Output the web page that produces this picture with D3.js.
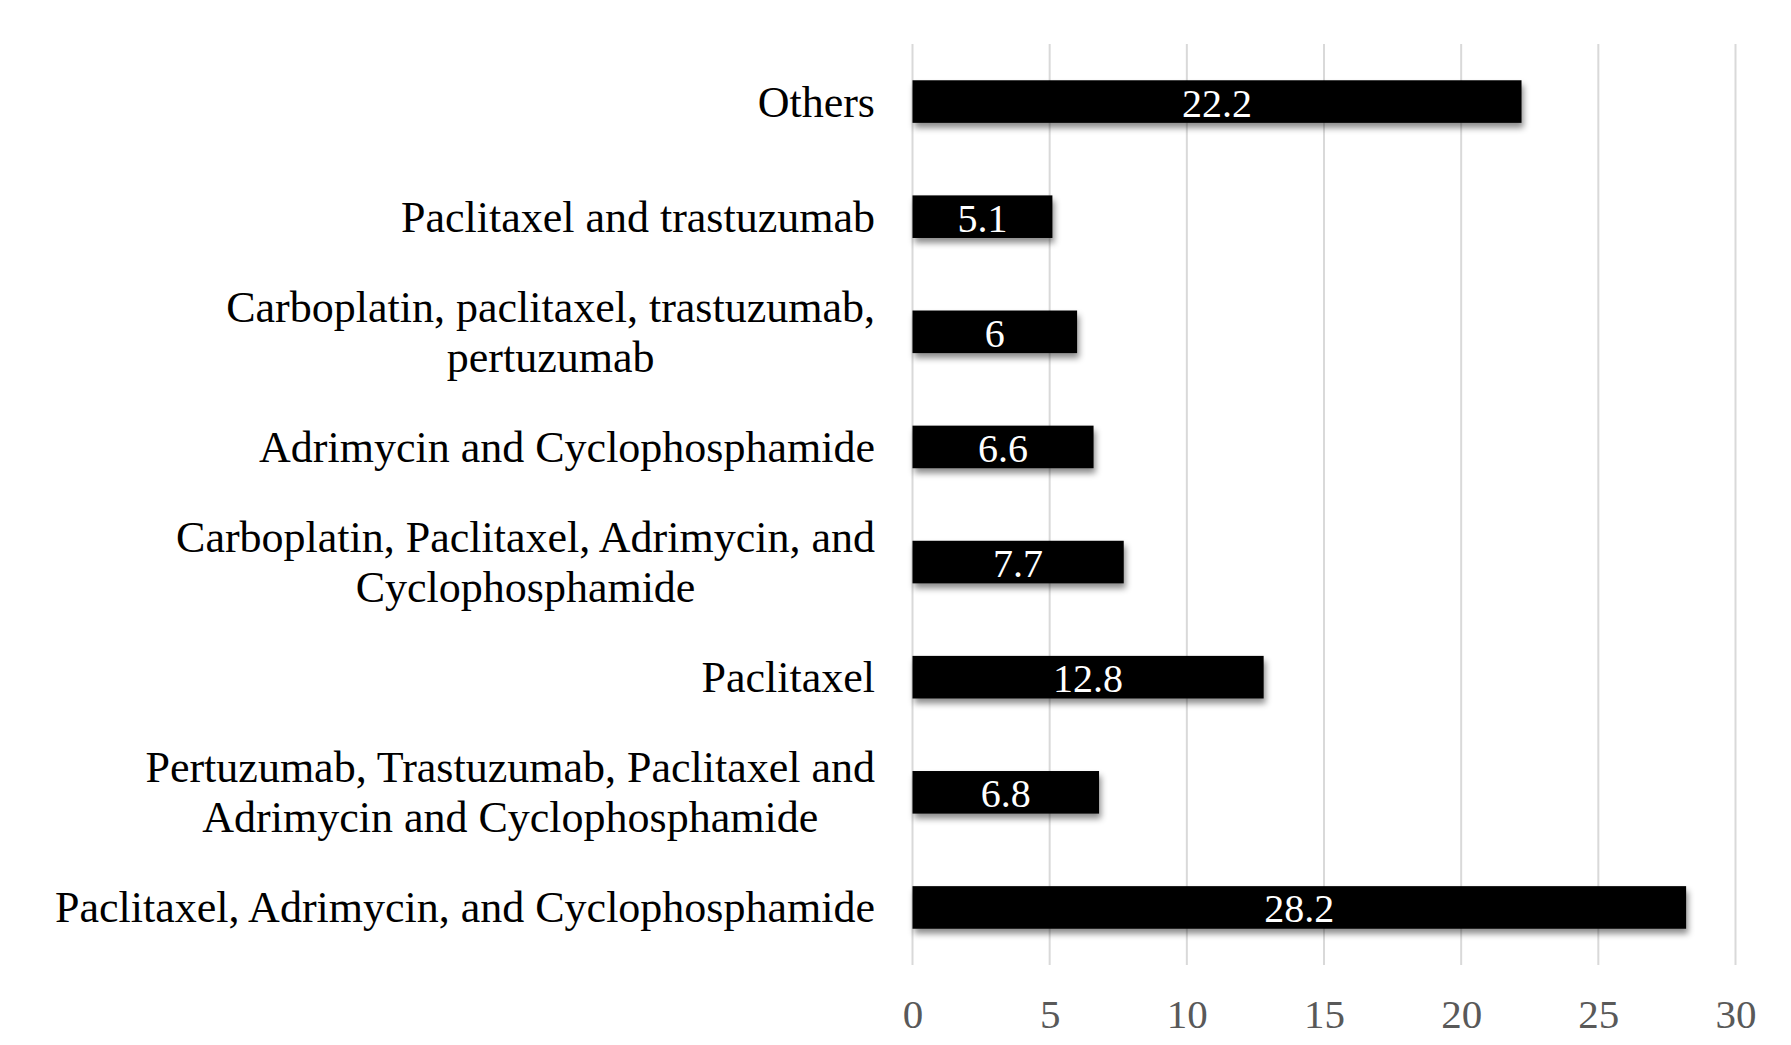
<!DOCTYPE html>
<html>
<head>
<meta charset="utf-8">
<script src="https://cdn.jsdelivr.net/npm/d3@7"></script>
<style>
  body { margin: 0; background: #fff; }
  text { font-family: "Liberation Serif", "Times New Roman", serif; }
</style>
</head>
<body>
<div id="chart"></div>
<script>
// categories top to bottom, each split into the lines shown in the picture
var categories = [
  ["Others"],
  ["Paclitaxel and trastuzumab"],
  ["Carboplatin, paclitaxel, trastuzumab,", "pertuzumab"],
  ["Adrimycin and Cyclophosphamide"],
  ["Carboplatin, Paclitaxel, Adrimycin, and", "Cyclophosphamide"],
  ["Paclitaxel"],
  ["Pertuzumab, Trastuzumab, Paclitaxel and", "Adrimycin and Cyclophosphamide"],
  ["Paclitaxel, Adrimycin, and Cyclophosphamide"]
];
var values = [22.2, 5.1, 6, 6.6, 7.7, 12.8, 6.8, 28.2];
var ticks = [0, 5, 10, 15, 20, 25, 30];

var W = 1791, H = 1045;
var margin = {top: 44, right: 55, bottom: 80, left: 912.5};
var width = 1735.5 - margin.left,
    height = 965 - margin.top;

var svg = d3.select("#chart")
  .append("svg")
    .attr("width", W)
    .attr("height", H);

var defs = svg.append("defs");
var f = defs.append("filter")
    .attr("id", "shadow")
    .attr("x", "-5%").attr("y", "-40%")
    .attr("width", "115%").attr("height", "200%");
f.append("feDropShadow")
    .attr("dx", 2).attr("dy", 5)
    .attr("stdDeviation", 3)
    .attr("flood-color", "#000")
    .attr("flood-opacity", 0.45);

var g = svg.append("g")
    .attr("transform", "translate(" + margin.left + "," + margin.top + ")");

var idx = d3.range(categories.length);

var x = d3.scaleLinear()
  .domain([0, 30])
  .range([0, width]);

var y = d3.scaleBand()
  .domain(idx)
  .range([0, height])
  .paddingInner(0.63)
  .paddingOuter(0.315);

// gridlines
g.append("g")
  .selectAll("line")
  .data(ticks)
  .enter()
  .append("line")
    .attr("x1", d => x(d))
    .attr("x2", d => x(d))
    .attr("y1", 0)
    .attr("y2", height)
    .attr("stroke", "#d9d9d9")
    .attr("stroke-width", 2);

// x axis labels
var xAxis = g.append("g")
  .attr("transform", "translate(0," + height + ")")
  .call(d3.axisBottom(x).tickValues(ticks).tickSize(0).tickPadding(0));
xAxis.select(".domain").remove();
xAxis.selectAll("text")
  .attr("dy", null)
  .attr("y", 63)
  .attr("fill", "#595959")
  .style("font-size", "41px")
  .style("font-family", "Liberation Serif, serif");

// bars
g.append("g")
  .selectAll("rect")
  .data(idx)
  .enter()
  .append("rect")
    .attr("x", x(0))
    .attr("y", i => y(i))
    .attr("width", i => x(values[i]) - x(0))
    .attr("height", y.bandwidth())
    .attr("fill", "#000")
    .attr("filter", "url(#shadow)");

// value labels
g.append("g")
  .selectAll("text")
  .data(idx)
  .enter()
  .append("text")
    .attr("x", i => (x(0) + x(values[i])) / 2)
    .attr("y", i => y(i) + y.bandwidth() / 2 + 15)
    .attr("text-anchor", "middle")
    .attr("fill", "#fff")
    .style("font-size", "40px")
    .text(i => values[i]);

// category labels, right aligned block, lines centered within block
var labelRight = -37.5;
var lineH = 50;
idx.forEach(function(i) {
  var lines = categories[i];
  var cy = y(i) + y.bandwidth() / 2;
  var grp = g.append("g");
  var texts = lines.map(function(t, k) {
    return grp.append("text")
      .attr("y", cy + 15 + (k - (lines.length - 1) / 2) * lineH)
      .attr("text-anchor", "middle")
      .attr("fill", "#000")
      .style("font-size", "44px")
      .text(t);
  });
  var maxW = d3.max(texts, t => t.node().getComputedTextLength());
  texts.forEach(t => t.attr("x", labelRight - maxW / 2));
});
</script>
</body>
</html>
